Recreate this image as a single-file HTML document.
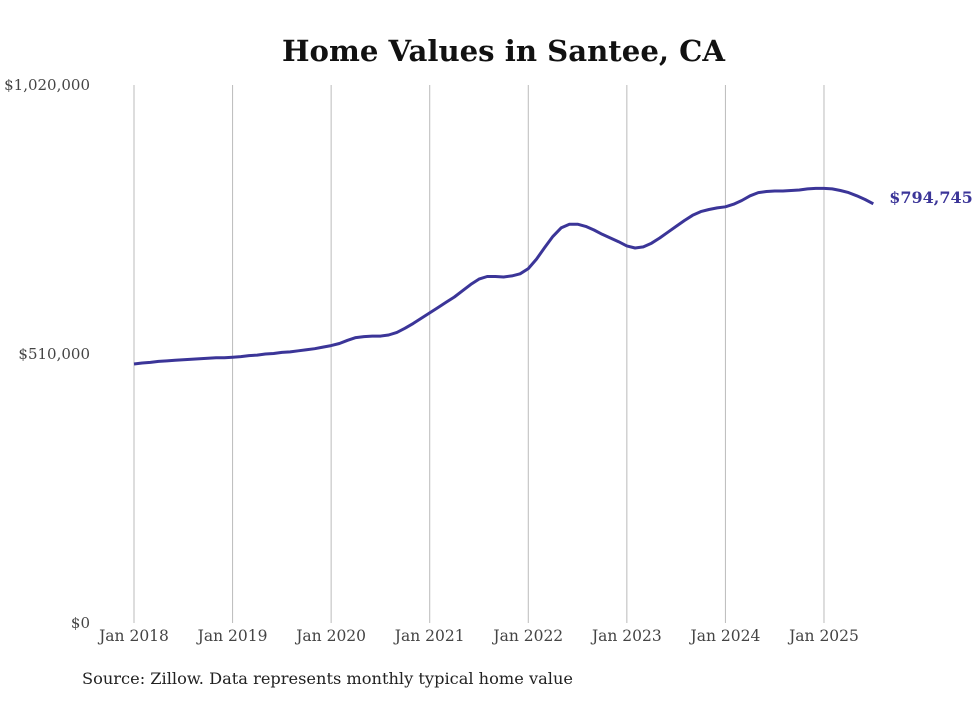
<!DOCTYPE html>
<html><head><meta charset="utf-8"><style>
body{margin:0;background:#fff;}
svg text{font-family:"DejaVu Serif","Liberation Serif",serif;}
</style></head><body>
<svg width="980" height="699" xmlns="http://www.w3.org/2000/svg">
<text x="282" y="61" textLength="443" lengthAdjust="spacingAndGlyphs" font-size="29" font-weight="bold" fill="#111">Home Values in Santee, CA</text>
<g id="grid"></g><g id="yaxis"></g><g id="xaxis"></g>
<path id="line" fill="none" stroke="#3b3598" stroke-width="3" stroke-linejoin="round"/>
<text id="endlabel" font-size="16" font-weight="bold" fill="#3b3598"></text>
<text x="82" y="684" textLength="491" lengthAdjust="spacingAndGlyphs" font-size="16" fill="#222">Source: Zillow. Data represents monthly typical home value</text>
</svg>
<script>
const yTicks=[0,510000,1020000];
const yTickLabels=["$0","$510,000","$1,020,000"];
const xTickYears=[2018,2019,2020,2021,2022,2023,2024,2025];
const values=[
491000,493000,494000,496000,497000,498000,499000,500000,501000,502000,503000,503000,
504000,505000,507000,508000,510000,511000,513000,514000,516000,518000,520000,523000,
526000,530000,536000,541000,543000,544000,544000,546000,551000,559000,568000,578000,
588000,598000,608000,618000,630000,642000,652000,657000,657000,656000,658000,662000,
672000,690000,712000,733000,749000,756000,756000,752000,745000,737000,730000,723000,
715000,711000,713000,720000,730000,741000,752000,763000,773000,780000,784000,787000,
789000,794000,801000,810000,816000,818000,819000,819000,820000,821000,823000,824000,
824000,823000,820000,816000,810000,803000,794745];
const NS="http://www.w3.org/2000/svg";
const x0=134,pxYear=98.57,yBase=623,yTop=85,yMax=1020000;
const xs=i=>x0+i*pxYear/12;
const ys=v=>yBase-(v/yMax)*(yBase-yTop);
function mk(tag,attrs,parent,txt){const e=document.createElementNS(NS,tag);for(const k in attrs)e.setAttribute(k,attrs[k]);if(txt!==undefined)e.textContent=txt;document.getElementById(parent).appendChild(e);return e;}
xTickYears.forEach((y,i)=>{
 const x=xs((y-2018)*12);
 const g=mk('line',{x1:x,x2:x,y1:yTop,y2:yBase,stroke:'#bbb','stroke-width':1},'grid');
 
 
 const t=mk('text',{x:x,y:641,'text-anchor':'middle','font-size':15.5,fill:'#444'},'xaxis','Jan '+y);
 
 
});
yTicks.forEach((v,i)=>{
 const t=mk('text',{x:90,y:ys(v)+5,'text-anchor':'end','font-size':15,fill:'#444'},'yaxis',yTickLabels[i]);
 
 
});
let d='';values.forEach((v,i)=>{d+=(i?'L':'M')+xs(i).toFixed(1)+','+ys(v).toFixed(1);});
document.getElementById('line').setAttribute('d',d);
const last=values.length-1;
const el=document.getElementById('endlabel');
el.setAttribute('x',xs(last)+16);el.setAttribute('y',ys(values[last])-1);
el.textContent='$'+values[last].toLocaleString('en-US');
</script>
</body></html>
